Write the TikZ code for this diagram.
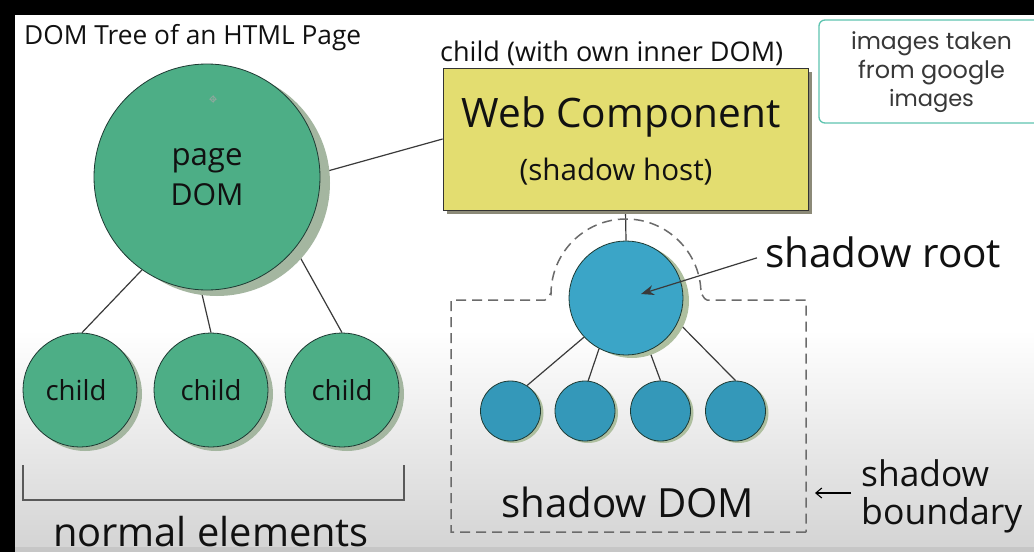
\documentclass[tikz,border=0pt]{standalone}
\usepackage{fontspec}
\setmainfont{Open Sans}
\newfontfamily\boxfont{Poppins}
\usetikzlibrary{arrows.meta,shadows}
\pgfdeclarelayer{back}
\pgfdeclarelayer{lines}
\pgfsetlayers{back,lines,main}
\definecolor{dgreen}{HTML}{4DAE86}
\definecolor{gshadow}{HTML}{A4B6A0}
\definecolor{rootblue}{HTML}{3BA5C7}
\definecolor{leafblue}{HTML}{3498B9}
\definecolor{bshadow}{HTML}{AEBF9F}
\definecolor{wcyellow}{HTML}{E3DD70}
\definecolor{wcshadow}{HTML}{8C8A78}
\definecolor{edgecol}{HTML}{1E3A33}
\definecolor{linecol}{HTML}{3A3A3A}
\definecolor{dashcol}{HTML}{6B6B6B}
\definecolor{teal}{HTML}{5EC4B0}
\definecolor{bggray}{HTML}{D5D5D5}
\definecolor{txt}{HTML}{111111}
% set #2 at the font size that makes it #1 pt wide
\newcommand\fitw[2]{\setbox0=\hbox{\fontsize{20pt}{24pt}\selectfont #2}%
  \pgfmathsetmacro\fitfs{20*#1/\the\wd0}%
  \fontsize{\fitfs pt}{\baselineskip}\selectfont #2}
\begin{document}
\begin{tikzpicture}[x=1pt,y=-1pt,
  bignode/.style={circle,draw=edgecol,line width=0.8pt,fill=dgreen,minimum size=226pt,inner sep=0pt,
    general shadow={shadow xshift=10pt,shadow yshift=-6pt,fill=gshadow},
    font=\fontsize{31}{40}\selectfont,align=center,text=txt},
  childnode/.style={circle,draw=edgecol,line width=0.8pt,fill=dgreen,minimum size=114pt,inner sep=0pt,
    general shadow={shadow xshift=5pt,shadow yshift=-4pt,fill=gshadow},text=txt},
  rootnode/.style={circle,draw=edgecol,line width=0.8pt,fill=rootblue,minimum size=114pt,inner sep=0pt,
    general shadow={shadow xshift=6pt,shadow yshift=-3pt,fill=bshadow}},
  leafnode/.style={circle,draw=edgecol,line width=0.8pt,fill=leafblue,minimum size=60pt,inner sep=0pt,
    general shadow={shadow xshift=3pt,shadow yshift=-2pt,fill=bshadow}},
  wcbox/.style={rectangle,draw=black!80,line width=0.8pt,fill=wcyellow,minimum width=365pt,minimum height=142pt,inner sep=0pt,
    general shadow={shadow xshift=4pt,shadow yshift=-4pt,fill=wcshadow}},
  infobox/.style={rectangle,rounded corners=6pt,draw=teal,line width=1.3pt,fill=white,minimum width=226pt,minimum height=103pt,inner sep=0pt},
  lbl/.style={inner sep=0pt,text=txt},
  conn/.style={draw=linecol,line width=1.2pt},
  dashbox/.style={draw=dashcol,line width=1.5pt,dash pattern=on 10pt off 6pt}
]
\useasboundingbox (0,0) rectangle (1034,552);
\begin{pgfonlayer}{back}
  \fill[white] (0,0) rectangle (1034,552);
  \shade[top color=white,bottom color=bggray] (0,330) rectangle (1034,542);
  \fill[bggray] (0,541) rectangle (1034,552);
  \fill[gray!45] (0,547) rectangle (1034,552);
  \fill[black] (0,0) rectangle (1034,15);
  \fill[black] (0,0) rectangle (15,552);
\end{pgfonlayer}

% titles
\node[lbl,anchor=base west] (title) at (24,44) {\fitw{337}{DOM Tree of an HTML Page}};
\node[lbl,anchor=base west] (childlbl) at (440,61) {\fitw{343}{child (with own inner DOM)}};

% info box
\node[infobox] (info) at (932,71.5) {};
\node[lbl,align=center,text=black!78,font=\boxfont\fontsize{22}{28.5}\selectfont] (infotxt) at (931.5,72.5)
  {{\fitw{161}{images taken}}\\{\fitw{147}{from google}}\\{\fitw{85}{images}}};

% page DOM tree
\node[bignode] (page) at (207,177) {{\fitw{71}{page}}\\{\fitw{73}{DOM}}};
\node[childnode] (c1) at (80,390) {\kern-8pt\fitw{61}{child}};
\node[childnode] (c2) at (211,390) {\fitw{61}{child}};
\node[childnode] (c3) at (342,390) {\fitw{61}{child}};
\draw[gray!70,line width=0.5pt] (213,99) circle (2.5pt) (209,99) -- (217,99) (213,95) -- (213,103);

% web component
\node[wcbox] (wc) at (625.5,139) {};
\node[lbl,anchor=base] (wct) at (621,127) {\fitw{319}{Web Component}};
\node[lbl,anchor=base] (wcs) at (616,180) {\fitw{193}{(shadow host)}};

% shadow tree
\node[rootnode] (sr) at (626,298) {};
\node[leafnode] (l1) at (510.5,411) {};
\node[leafnode] (l2) at (585,411) {};
\node[leafnode] (l3) at (660.5,411) {};
\node[leafnode] (l4) at (735.5,411) {};

\begin{pgfonlayer}{lines}
  \draw[conn] (page.235) -- (c1.88);
  \draw[conn] (page.267) -- (c2.90);
  \draw[conn] (page.-39) -- (c3.90);
  \draw[conn] (page.2) -- (wc.west);
  \draw[conn] (wc.south) -- (sr.north);
  \draw[conn] (sr.223) -- (l1.57);
  \draw[conn] (sr.242) -- (l2.84);
  \draw[conn] (sr.-66) -- (l3.90);
  \draw[conn] (sr.-25) -- (l4.90);
\end{pgfonlayer}

% shadow boundary
\draw[dashbox] (806,532) -- (451,532) -- (451,300) -- (545,300) to[out=0,in=90] (551,294)
  arc[start angle=180,end angle=360,radius=75] to[out=90,in=180] (707,300) -- (806,300) -- cycle;

% labels
\node[lbl,anchor=base west] (srl) at (765,267) {\fitw{236}{shadow root}};
\coordinate (srtip) at (641,294);
\draw[conn,-{Stealth[length=13pt,width=10pt]}] ([xshift=-8pt,yshift=-6pt]srl.west) -- (srtip);

\node[lbl,anchor=base west] (sdom) at (501,517) {\fitw{253}{shadow DOM}};

\node[lbl,anchor=west,align=left,font=\fontsize{34}{38}\selectfont] (sb) at (861,496) {{\fitw{128}{shadow}}\\{\fitw{161}{boundary}}};
\coordinate (sbend) at (815,493);
\draw[line width=1.1pt,draw=black,-{Straight Barb[length=6pt,width=10pt]}] ([xshift=-10pt,yshift=3pt]sb.west) -- (sbend);

% normal elements bracket
\draw[draw=black!65,line width=1.5pt] (23,465) -- (23,500) -- (404,500) -- (404,465);
\node[lbl,anchor=base] (norm) at (211,546) {\fitw{316}{normal elements}};
\end{tikzpicture}
\end{document}
